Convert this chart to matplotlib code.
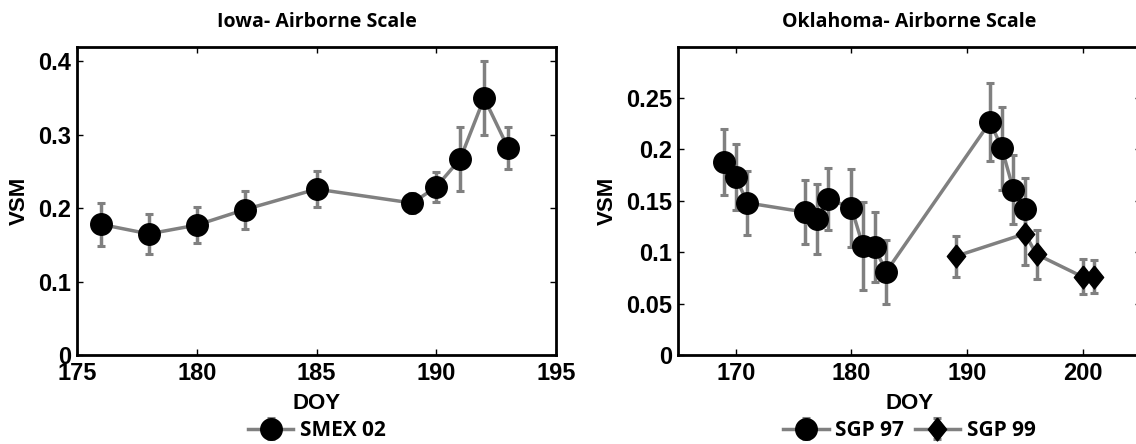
import matplotlib
matplotlib.use('Agg')
import matplotlib.pyplot as plt

# Iowa, SMEX 02
iowa_doy = [176, 178, 180, 182, 185, 189, 190, 191, 192, 193]
iowa_vsm = [0.178, 0.165, 0.177, 0.198, 0.226, 0.207, 0.229, 0.267, 0.350, 0.282]
iowa_err = [0.029, 0.027, 0.025, 0.026, 0.024, 0.014, 0.020, 0.043, 0.050, 0.028]

# Oklahoma, SGP 97 and SGP 99
sgp97_doy = [169, 170, 171, 176, 177, 178, 180, 181, 182, 183, 192, 193, 194, 195]
sgp97_vsm = [0.188, 0.173, 0.148, 0.139, 0.132, 0.152, 0.143, 0.106, 0.105, 0.081,
             0.227, 0.201, 0.161, 0.142]
sgp97_err = [0.032, 0.032, 0.031, 0.031, 0.034, 0.030, 0.038, 0.043, 0.034, 0.031,
             0.038, 0.040, 0.034, 0.030]
sgp99_doy = [189, 195, 196, 200, 201]
sgp99_vsm = [0.096, 0.118, 0.098, 0.076, 0.076]
sgp99_err = [0.020, 0.030, 0.024, 0.017, 0.016]

plt.rcParams['font.family'] = ['Liberation Sans', 'DejaVu Sans']
plt.rcParams['font.weight'] = 'bold'

gray = '#808080'
diamond = [(0, 1), (0.8, 0), (0, -1), (-0.8, 0), (0, 1)]
W, H = 1136, 444
fig = plt.figure(figsize=(W / 100, H / 100), dpi=100)

bot, top = 355, 46.7
ax1 = fig.add_axes([77 / W, (H - bot) / H, (556 - 77) / W, (bot - top) / H])
ax2 = fig.add_axes([678 / W, (H - bot) / H, (1140.6 - 678) / W, (bot - top) / H])


def series(ax, x, y, e, marker, ms, label):
    ax.errorbar(x, y, yerr=e, fmt='-', marker=marker, color=gray, lw=2.5,
                mfc='black', mec='black', ms=ms, ecolor=gray, elinewidth=2.5,
                capsize=2.6, capthick=2.2, label=label)


series(ax1, iowa_doy, iowa_vsm, iowa_err, 'o', 15.5, 'SMEX 02')
series(ax2, sgp97_doy, sgp97_vsm, sgp97_err, 'o', 15.5, 'SGP 97')
series(ax2, sgp99_doy, sgp99_vsm, sgp99_err, diamond, 16.5, 'SGP 99')

ax1.set_xlim(175, 195)
ax1.set_ylim(0, 0.42)
ax1.set_xticks([175, 180, 185, 190, 195])
ax1.set_yticks([0, 0.1, 0.2, 0.3, 0.4])
ax1.set_yticklabels(['0', '0.1', '0.2', '0.3', '0.4'])

ax2.set_xlim(165, 205)
ax2.set_ylim(0, 0.3)
ax2.set_xticks([170, 180, 190, 200])
ax2.set_yticks([0, 0.05, 0.1, 0.15, 0.2, 0.25])
ax2.set_yticklabels(['0', '0.05', '0.1', '0.15', '0.2', '0.25'])

titles = ['Iowa- Airborne Scale', 'Oklahoma- Airborne Scale']
for ax, t in zip([ax1, ax2], titles):
    for s in ax.spines.values():
        s.set_linewidth(2.0)
    ax.tick_params(direction='in', top=True, right=True, length=4, width=1.0,
                   labelsize=17, pad=5)
    ax.tick_params(axis='y', pad=4)
    for lab in ax.get_xticklabels() + ax.get_yticklabels():
        lab.set_fontweight('bold')
    ax.set_xlabel('DOY', fontsize=16, fontweight='bold', labelpad=6)
    ax.set_ylabel('VSM', fontsize=16, fontweight='bold', labelpad=6)
    ax.set_title(t, fontsize=14, fontweight='bold',
                 family=['Open Sans', 'DejaVu Sans'], pad=14)
    ax.legend(loc='center', bbox_to_anchor=(0.5, -0.245), ncol=2, frameon=False,
              handlelength=2.2, handletextpad=0.3, columnspacing=0.5,
              prop={'family': ['Open Sans', 'DejaVu Sans'], 'weight': 'bold', 'size': 15})

fig.savefig('out.png', dpi=100)
